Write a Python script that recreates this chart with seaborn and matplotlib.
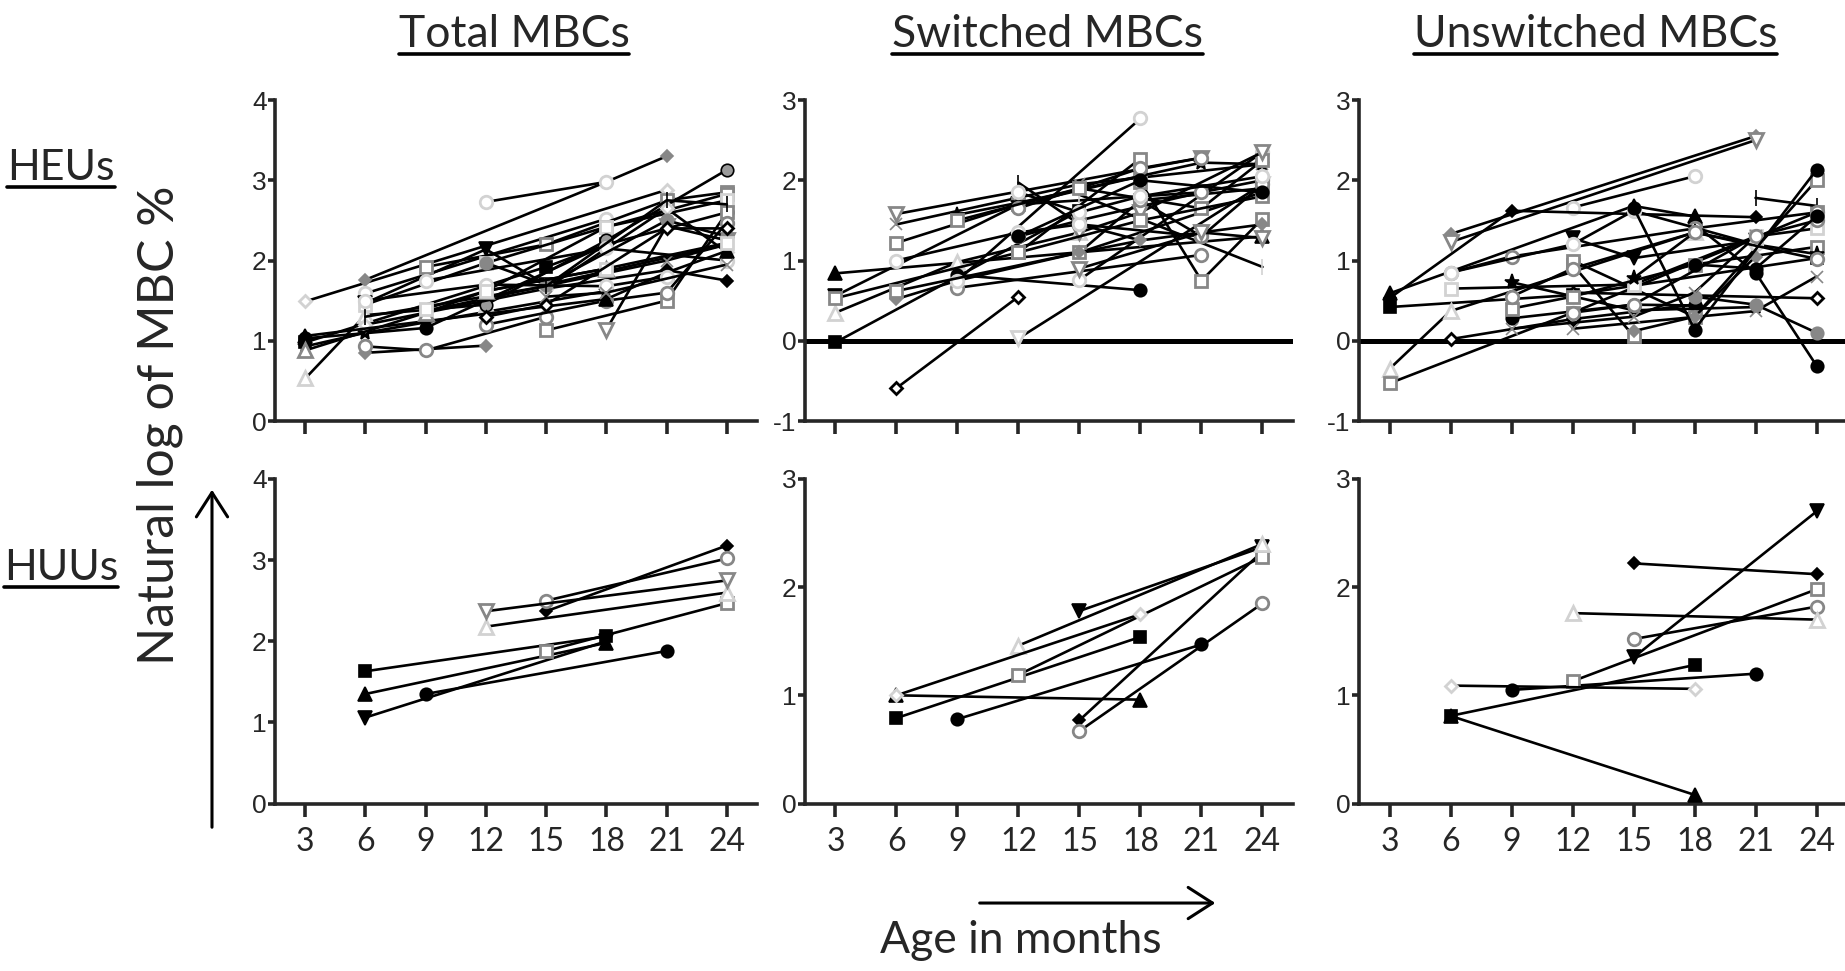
import matplotlib
matplotlib.use("Agg")
from matplotlib import pyplot as plt
from matplotlib.patches import FancyArrowPatch
from matplotlib.lines import Line2D
import seaborn as sns

months = [3, 6, 9, 12, 15, 18, 21, 24]

# ---- Total MBCs, HEUs (one entry per infant: ages sampled, ln MBC %)
tot_heu_age = [[3, 21], [6, 18, 21], [12, 18], [6, 18], [6, 12, 15, 24], [3, 15, 18],
               [3, 9, 18, 24], [3, 6, 18], [3, 6, 12], [6, 12], [6, 9, 15], [9, 15, 21, 24],
               [12, 18, 24], [6, 12, 18, 24], [18, 21, 24], [15, 21, 24], [15, 21, 24],
               [12, 18, 24], [9, 21, 24], [12, 18, 21, 24], [6, 15, 21, 24], [9, 18, 24],
               [12, 15, 21, 24], [3, 18, 21, 24], [3, 9, 12, 18], [6, 15, 21, 24],
               [6, 12, 18, 21], [15, 18, 24], [9, 12, 18, 24], [12, 15, 21, 24]]
tot_heu_val = [[1.49, 2.88], [1.76, 2.98, 3.30], [2.73, 2.98], [1.59, 2.52], [1.47, 2.14, 1.70, 2.20],
               [0.98, 1.92, 2.20], [1.03, 1.16, 2.20, 2.60], [0.93, 1.10, 1.62], [0.53, 1.32, 1.45],
               [0.85, 0.94], [0.93, 0.88, 1.30], [1.92, 2.20, 2.75, 2.85], [1.62, 2.42, 2.83],
               [1.45, 1.97, 2.42, 2.75], [1.14, 2.43, 2.25], [1.13, 1.50, 2.60], [1.65, 1.88, 1.75],
               [1.45, 2.25, 3.13], [1.37, 2.00, 2.20], [1.20, 1.50, 1.60, 2.47], [1.20, 1.65, 2.65, 2.10],
               [1.75, 2.15, 2.00], [1.97, 1.70, 2.50, 2.30], [1.06, 1.52, 1.85, 2.12],
               [0.88, 1.35, 1.62, 1.90], [1.30, 1.68, 2.75, 2.70], [1.50, 1.70, 1.68, 1.80],
               [1.55, 1.60, 1.95], [1.40, 1.62, 1.90, 2.22], [1.30, 1.45, 2.40, 2.40]]
tot_heu_sym = ['lD', 'gDf', 'lo', 'lo', 'kv', 'ks', 'ko', 'k*', 'l^', 'gDf', 'go', 'gs', 'gs', 'ls',
               'gv', 'gs', 'kD', 'kod', 'gx', 'go', 'lD', 'lo', 'gof', 'k^', 'g^', 'k|', 'lo', 'gx',
               'ls', 'kDo']

# ---- Switched MBCs, HEUs
sw_heu_age = [[3, 15], [6, 12], [12, 24], [3, 24], [3, 12, 21], [3, 9, 15], [6, 21], [6, 15, 24],
              [6, 12, 18], [9, 18], [6, 9, 15, 24], [9, 21], [12, 15, 18], [9, 18], [18, 21, 24],
              [15, 24], [15, 24], [3, 12, 18], [9, 12, 21, 24], [6, 15, 18, 24], [12, 15, 21, 24],
              [12, 18, 21], [9, 15, 21, 24], [15, 18, 24], [12, 18, 24], [6, 12, 15, 21],
              [15, 18, 24], [18, 21, 24], [12, 15, 18, 24], [15, 21, 24], [12, 18, 24]]
sw_heu_val = [[-0.02, 1.62], [-0.59, 0.55], [0.03, 1.95], [0.84, 1.30], [0.56, 1.70, 1.85],
              [0.35, 0.98, 1.35], [1.58, 2.28], [1.45, 1.95, 2.20], [1.22, 1.70, 2.05], [0.82, 0.63],
              [0.52, 0.75, 1.10, 1.85], [0.66, 1.07], [1.97, 1.45, 1.25], [0.75, 2.77],
              [1.98, 0.75, 1.52], [0.76, 2.35], [1.82, 0.92], [0.53, 1.10, 2.27],
              [1.57, 1.72, 2.22, 2.20], [0.62, 1.10, 1.75, 1.90], [1.30, 1.50, 1.85, 2.00],
              [1.65, 2.15, 2.28], [1.50, 1.90, 1.65, 2.25], [1.35, 1.60, 2.35], [1.10, 1.50, 1.80],
              [1.00, 1.35, 1.45, 1.30], [1.10, 1.25, 1.45], [1.75, 1.30, 1.95],
              [1.85, 1.60, 1.80, 2.05], [0.90, 1.35, 1.28], [1.30, 2.00, 1.85]]
sw_heu_sym = ['ks', 'kDo', 'lv', 'k^', 'kv', 'l^', 'gv', 'gx', 'gs', 'ko', 'gDf', 'go', 'k|', 'lo',
              'gs', 'lo', 'l|', 'gs', 'k*', 'gs', 'go', 'go', 'gs', 'gv', 'gs', 'lo', 'gDf', 'go',
              'lo', 'gv', 'ko']

# ---- Unswitched MBCs, HEUs
un_heu_age = [[6, 21], [6, 21], [12, 18], [3, 15, 18], [3, 9, 21], [3, 12, 24], [3, 6, 18],
              [3, 12, 24], [6, 12, 18], [9, 15, 21], [9, 15, 18], [12, 15, 21], [12, 15], [21, 24],
              [18, 21, 24], [12, 21, 24], [12, 24], [18, 21, 24], [12, 18, 24], [6, 9, 18, 24],
              [6, 15, 21, 24], [9, 12, 18, 24], [15, 18, 21, 24], [9, 15, 18, 21], [6, 12, 15, 21],
              [9, 12, 18, 24], [15, 18, 21], [12, 15, 21, 24], [15, 18, 24], [18, 21, 24]]
un_heu_val = [[1.33, 2.55], [1.23, 2.50], [1.66, 2.05], [0.59, 1.68, 1.55], [0.53, 1.62, 1.54],
              [0.42, 0.57, 1.03], [-0.35, 0.37, 1.35], [-0.53, 0.35, 1.60], [0.02, 0.27, 0.45],
              [0.73, 0.38, 0.42], [0.28, 0.45, 0.44], [1.28, 1.03, 1.25], [0.95, 0.06], [1.78, 1.68],
              [1.45, 0.85, -0.31], [0.15, 0.37, 0.80], [0.60, 0.53], [0.55, 0.45, 0.10],
              [1.00, 0.30, 2.00], [0.85, 1.05, 1.40, 1.60], [0.65, 0.70, 1.30, 1.40],
              [0.40, 0.55, 0.95, 1.17], [0.78, 1.35, 1.20, 1.08], [0.15, 0.30, 0.60, 1.30],
              [0.85, 1.20, 1.62, 1.20], [0.55, 0.90, 1.35, 1.02], [0.12, 0.30, 1.05],
              [0.35, 0.45, 1.30, 1.50], [1.66, 0.14, 2.13], [0.95, 0.90, 1.55]]
un_heu_sym = ['gDf', 'gv', 'lo', 'k^', 'kD', 'ks', 'l^', 'gs', 'kDo', 'k*', 'ko', 'kv', 'gs', 'k|',
              'ko', 'gx', 'kDo', 'gof', 'gs', 'go', 'ls', 'gs', 'k*', 'gx', 'lo', 'go', 'gDf', 'go',
              'ko', 'ko']

# ---- HUUs (same nine infants in each panel)
huu_sym = ['ks', 'k^', 'kv', 'ko', 'kD', 'go', 'gs', 'l^', 'lD']
tot_huu_age = [[6, 18], [6, 18], [6, 18], [9, 21], [15, 24], [15, 24], [15, 24], [12, 24], [12, 24]]
tot_huu_val = [[1.63, 2.06], [1.35, 1.98], [1.06, 2.00], [1.35, 1.88], [2.37, 3.18], [2.50, 3.02],
               [1.88, 2.47], [2.18, 2.60], [2.37, 2.75]]
tot_huu_sym = ['ks', 'k^', 'kv', 'ko', 'kD', 'go', 'gs', 'l^', 'gv']
sw_huu_age = [[6, 18], [6, 18], [15, 24], [9, 21], [15, 24], [15, 24], [12, 24], [12, 24], [6, 18]]
sw_huu_val = [[0.79, 1.54], [1.00, 0.96], [1.78, 2.37], [0.78, 1.47], [0.77, 2.33], [0.67, 1.85],
              [1.19, 2.28], [1.46, 2.40], [1.00, 1.75]]
un_huu_age = [[6, 18], [6, 18], [15, 24], [9, 21], [15, 24], [15, 24], [12, 24], [12, 24], [6, 18]]
un_huu_val = [[0.81, 1.28], [0.81, 0.08], [1.35, 2.70], [1.05, 1.20], [2.22, 2.12], [1.52, 1.82],
              [1.13, 1.98], [1.76, 1.70], [1.09, 1.06]]

col_titles = ['Total MBCs', 'Switched MBCs', 'Unswitched MBCs']
row_titles = ['HEUs', 'HUUs']

G = '#878787'
L = '#d2d2d2'
STY = {
    'ks': ('s', 'k', 'k'), 'k^': ('^', 'k', 'k'), 'kv': ('v', 'k', 'k'), 'kD': ('D', 'k', 'k'),
    'ko': ('o', 'k', 'k'), 'k*': ('*', 'k', 'k'), 'k|': ('|', 'k', 'k'), 'kDo': ('D', 'w', 'k'),
    'kod': ('o', '#9a9a9a', 'k'),
    'gs': ('s', 'w', G), 'go': ('o', 'w', G), 'g^': ('^', 'w', G), 'gv': ('v', 'w', G),
    'gx': ('x', G, G), 'gof': ('o', G, G), 'gDf': ('D', G, G),
    'ls': ('s', 'w', L), 'lo': ('o', 'w', L), 'l^': ('^', 'w', L), 'lv': ('v', 'w', L),
    'lD': ('D', 'w', L), 'l|': ('|', L, L),
}
MS = {'s': 9, 'o': 9, '^': 9.5, 'v': 9.5, 'D': 6.5, '*': 11, '|': 11, 'x': 9}

sns.set_style("ticks")
plt.rcParams['font.family'] = ['Lato', 'DejaVu Sans']

fig = plt.figure(figsize=(18.45, 9.71), dpi=100)
lefts = [0.1491, 0.4363, 0.7366]
widths = [0.2612, 0.2645, 0.2645]
rows = [(0.5664, 0.3306), (0.1725, 0.3342)]

panels = [
    (0, 0, tot_heu_age, tot_heu_val, tot_heu_sym, (0, 4)),
    (0, 1, sw_heu_age, sw_heu_val, sw_heu_sym, (-1, 3)),
    (0, 2, un_heu_age, un_heu_val, un_heu_sym, (-1, 3)),
    (1, 0, tot_huu_age, tot_huu_val, tot_huu_sym, (0, 4)),
    (1, 1, sw_huu_age, sw_huu_val, huu_sym, (0, 3)),
    (1, 2, un_huu_age, un_huu_val, huu_sym, (0, 3)),
]

for r, c, ages, vals, syms, (lo, hi) in panels:
    ax = fig.add_axes([lefts[c], rows[r][0], widths[c], rows[r][1]])
    if lo < 0:
        ax.axhline(0, color='k', lw=3.6, zorder=2)
    for a, v, s in zip(ages, vals, syms):
        m, fc, ec = STY[s]
        sns.lineplot(x=a, y=v, ax=ax, estimator=None, sort=False, color='k', lw=1.9,
                     marker=m, ms=MS[m], mfc=fc, mec=ec,
                     markeredgewidth=2.0 if fc == 'w' else 1.2, zorder=3, clip_on=False)
    ax.set_xlim(1.5, 25.5)
    ax.set_ylim(lo, hi)
    ax.set_xticks(months)
    ax.set_yticks(range(lo, hi + 1))
    ax.set_yticklabels([str(t) for t in range(lo, hi + 1)], fontsize=19,
                       family=['Liberation Sans', 'DejaVu Sans'])
    if r == 1:
        ax.set_xticklabels([str(mo) for mo in months], fontsize=23)
    else:
        ax.set_xticklabels([])
    ax.set_xlabel('')
    ax.set_ylabel('')
    sns.despine(ax=ax)
    for sp in ['left', 'bottom']:
        ax.spines[sp].set_linewidth(2.6)
    ax.tick_params(axis='x', length=9, width=2.6, pad=8)
    ax.tick_params(axis='y', length=5, width=2.6, pad=1)

# column and row headings (underlined)
heads = []
for x, s in zip([0.2786, 0.568, 0.8648], col_titles):
    heads.append((fig.text(x, 0.9517, s, ha='center', va='baseline', fontsize=32), 0.9444))
for y, s in zip([0.8146, 0.4027], row_titles):
    heads.append((fig.text(0.0331, y, s, ha='center', va='baseline', fontsize=31), y - 0.0075))

fig.text(0.0868, 0.5623, 'Natural log of MBC %', rotation=90, ha='center', va='center', fontsize=36)
fig.text(0.5534, 0.0309, 'Age in months', ha='center', va='center', fontsize=32)

fig.add_artist(FancyArrowPatch((0.1149, 0.1452), (0.1149, 0.4985), transform=fig.transFigure,
                               arrowstyle='->,head_length=0.7,head_width=0.45', mutation_scale=25,
                               lw=2.2, color='k'))
fig.add_artist(FancyArrowPatch((0.5295, 0.0700), (0.6602, 0.0700), transform=fig.transFigure,
                               arrowstyle='->,head_length=0.7,head_width=0.45', mutation_scale=25,
                               lw=2.2, color='k'))

fig.canvas.draw()
rend = fig.canvas.get_renderer()
inv = fig.transFigure.inverted()
for t, uy in heads:
    bb = t.get_window_extent(rend).transformed(inv)
    fig.add_artist(Line2D([bb.x0, bb.x1], [uy, uy], transform=fig.transFigure, color='k', lw=2.6))

fig.savefig('out.png', dpi=100)
